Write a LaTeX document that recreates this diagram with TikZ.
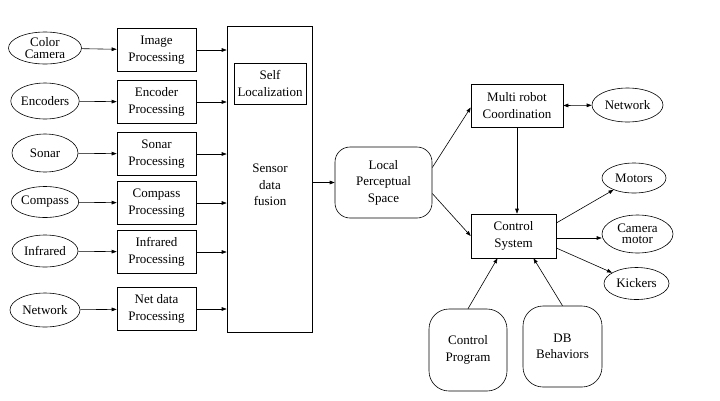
\documentclass[tikz,border=0pt]{standalone}
\usepackage{fontspec}
\setmainfont{Liberation Serif}
\usetikzlibrary{arrows.meta,shapes.geometric}
\tikzset{
  >={Triangle[length=5pt,width=3.6pt]},
  txt/.style={font=\rmfamily\fontsize{13}{16.5}\selectfont},
  src/.style={ellipse,draw,inner sep=0pt,align=center,txt},
  src2/.style={src,font=\rmfamily\fontsize{13}{11.5}\selectfont},
  blk/.style={rectangle,draw,inner sep=0pt,align=center,txt},
  rblk/.style={blk,rounded corners=15pt},
  every picture/.style={line width=0.6pt},
}
\begin{document}
\begin{tikzpicture}[x=1pt,y=-1pt]
\useasboundingbox (0,0) rectangle (720,400);
% sensors
\node[src2,minimum width=73pt,minimum height=32pt] (cam) at (45,48){Color\\Camera};
\node[src,minimum width=66pt,minimum height=36pt] (enc) at (45,101){Encoders};
\node[src,minimum width=66pt,minimum height=38pt] (son) at (45,153){Sonar};
\node[src,minimum width=66pt,minimum height=31pt] (cmp) at (45,202){Compass};
\node[src,minimum width=66pt,minimum height=32pt] (ir) at (45,251){Infrared};
\node[src,minimum width=70pt,minimum height=34pt] (net) at (45,310){Network};
% processing
\node[blk,minimum width=79pt,minimum height=43pt] (img) at (156.5,50){Image\\Processing};
\node[blk,minimum width=79pt,minimum height=43pt] (encp) at (156.5,102){Encoder\\Processing};
\node[blk,minimum width=79pt,minimum height=43pt] (sonp) at (156.5,154){Sonar\\Processing};
\node[blk,minimum width=79pt,minimum height=43pt] (cmpp) at (156.5,203){Compass\\Processing};
\node[blk,minimum width=79pt,minimum height=43pt] (irp) at (156.5,252){Infrared\\Processing};
\node[blk,minimum width=79pt,minimum height=43pt] (netp) at (156.5,309){Net data\\Processing};
% fusion
\node[blk,minimum width=85pt,minimum height=306pt] (fus) at (269.5,179){};
\node[blk,minimum width=72pt,minimum height=41pt] (self) at (270,83.5){Self\\Localization};
\node[txt,align=center] (fustxt) at (270,185){Sensor\\data\\fusion};
% planning and control
\node[rblk,minimum width=97pt,minimum height=71pt] (lps) at (383.5,182.5){Local\\Perceptual\\Space};
\node[blk,minimum width=92pt,minimum height=43pt] (mrc) at (517,105.5){Multi robot\\Coordination};
\node[blk,minimum width=85pt,minimum height=44pt] (cs) at (513.5,236){Control\\System};
\node[rblk,minimum width=78pt,minimum height=82pt,rounded corners=20pt] (cp) at (468,350){Control\\Program};
\node[rblk,minimum width=79pt,minimum height=81pt,rounded corners=20pt] (db) at (562.5,346.5){DB\\Behaviors};
% actuators
\node[src,minimum width=71pt,minimum height=34pt] (net2) at (627.5,105){Network};
\node[src,minimum width=64pt,minimum height=30pt] (mot) at (634,178){Motors};
\node[src2,minimum width=71pt,minimum height=38pt] (cmot) at (637.5,234){Camera\\motor};
\node[src,minimum width=65pt,minimum height=32pt] (kick) at (636.5,283.5){Kickers};
% connectors
\draw[->] (cam) -- (img);
\draw[->] (enc) -- (encp);
\draw[->] (son) -- (sonp);
\draw[->] (cmp) -- (cmpp);
\draw[->] (ir) -- (irp);
\draw[->] (net) -- (netp);
\draw[->] (img.east) -- (img.east -| fus.west);
\draw[->] (encp.east) -- (encp.east -| fus.west);
\draw[->] (sonp.east) -- (sonp.east -| fus.west);
\draw[->] (cmpp.east) -- (cmpp.east -| fus.west);
\draw[->] (irp.east) -- (irp.east -| fus.west);
\draw[->] (netp.east) -- (netp.east -| fus.west);
\draw[->] (fus.east |- lps.west) -- (lps.west);
\draw[->] ([yshift=15pt]lps.east) -- ([yshift=-2pt]mrc.west);
\draw[->] ([yshift=-11pt]lps.east) -- (cs.west);
\draw[->] (mrc.south) -- (mrc.south |- cs.north);
\draw[<->] (mrc.east) -- (net2);
\draw[->] ([yshift=13pt]cs.east) -- (mot);
\draw[->] ([yshift=-2pt]cs.east) -- ([yshift=-2pt]cs.east -| cmot.west);
\draw[->] ([yshift=-12pt]cs.east) -- (kick);
\draw[->] (cp.north) -- ([xshift=-16pt]cs.south);
\draw[->] (db.north) -- ([xshift=20pt]cs.south);
\end{tikzpicture}
\end{document}
